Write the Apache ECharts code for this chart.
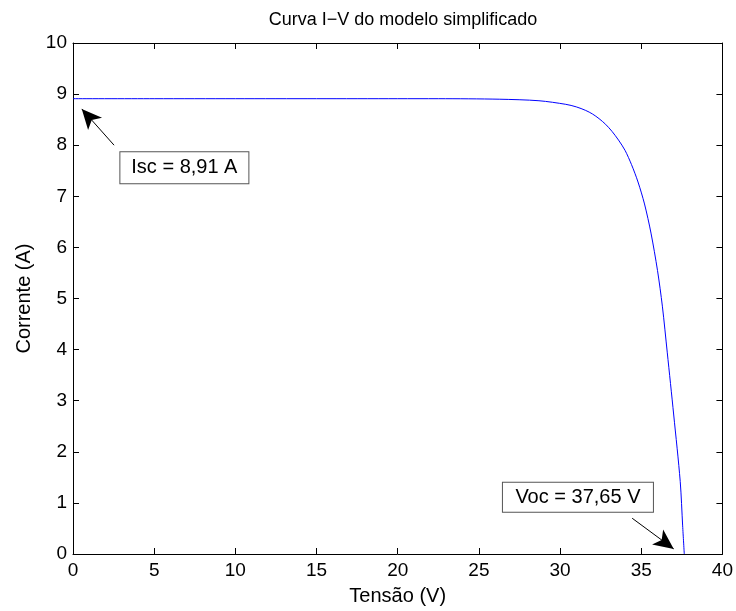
<!DOCTYPE html>
<html>
<head>
<meta charset="utf-8">
<script src="https://cdn.jsdelivr.net/npm/echarts@6/dist/echarts.min.js"></script>
<style>html,body{margin:0;padding:0;background:#fff;}#c{width:736px;height:611px;}</style>
</head>
<body>
<div id="c"></div>
<script>
// Data
const voltage = [0, 5, 10, 15, 20, 22.5, 26.25, 28.7, 30.35, 31.0, 31.58, 32.0, 32.4, 32.8, 33.2, 33.6, 34.0, 34.4, 34.8, 35.2, 35.6, 36.0, 36.3, 36.6, 37.0, 37.4, 37.55, 37.65];
const current = [8.91, 8.91, 8.91, 8.91, 8.91, 8.91, 8.90, 8.87, 8.80, 8.75, 8.68, 8.61, 8.52, 8.41, 8.27, 8.10, 7.90, 7.62, 7.28, 6.85, 6.28, 5.55, 4.85, 3.95, 2.72, 1.42, 0.55, 0];
const xTicks = [0, 5, 10, 15, 20, 25, 30, 35, 40];
const yTicks = [0, 1, 2, 3, 4, 5, 6, 7, 8, 9, 10];
const iscLabel = 'Isc = 8,91 A';
const vocLabel = 'Voc = 37,65 V';

const FONT = '"Liberation Sans", Arial, Helvetica, sans-serif';
const chart = echarts.init(document.getElementById('c'), null, {renderer: 'canvas'});
const pts = voltage.map((v, i) => [v, current[i]]);

const axisCommon = {
  type: 'value',
  axisLine: {show: true, onZero: false, lineStyle: {color: '#000', width: 1}},
  axisTick: {show: true, inside: true, length: 6, lineStyle: {color: '#000'}},
  splitLine: {show: false},
};

function boxLabel(text, w, h) {
  return {
    show: true, position: 'inside', formatter: text,
    fontFamily: FONT, fontSize: 20, color: '#000',
    backgroundColor: '#fff', borderColor: '#555', borderWidth: 1,
    width: w, height: h, lineHeight: h, align: 'center', verticalAlign: 'middle', padding: 0
  };
}

chart.setOption({
  animation: false,
  backgroundColor: '#fff',
  title: {
    text: 'Curva I\u2212V do modelo simplificado',
    left: 398, top: 6, textAlign: 'center',
    textStyle: {fontFamily: FONT, fontSize: 18, fontWeight: 'normal', color: '#000'}
  },
  grid: {left: 73, right: 12, top: 43, bottom: 55},
  xAxis: [
    Object.assign({}, axisCommon, {
      min: xTicks[0], max: xTicks[xTicks.length - 1], interval: 5,
      name: 'Tensão (V)', nameLocation: 'middle', nameGap: 32,
      nameTextStyle: {fontFamily: FONT, fontSize: 20, color: '#000'},
      axisLabel: {fontFamily: FONT, fontSize: 19, color: '#000', margin: 7}
    }),
    Object.assign({}, axisCommon, {
      position: 'top', min: xTicks[0], max: xTicks[xTicks.length - 1], interval: 5,
      axisLabel: {show: false}
    })
  ],
  yAxis: [
    Object.assign({}, axisCommon, {
      min: yTicks[0], max: yTicks[yTicks.length - 1], interval: 1,
      name: 'Corrente (A)', nameLocation: 'middle', nameGap: 35,
      nameTextStyle: {fontFamily: FONT, fontSize: 20, color: '#000'},
      axisLabel: {fontFamily: FONT, fontSize: 19, color: '#000', margin: 6}
    }),
    Object.assign({}, axisCommon, {
      position: 'right', min: yTicks[0], max: yTicks[yTicks.length - 1], interval: 1,
      axisLabel: {show: false}
    })
  ],
  series: [{
    type: 'line',
    data: pts,
    showSymbol: false,
    smooth: 0.3,
    lineStyle: {color: '#0000ff', width: 1},
    itemStyle: {color: '#0000ff'},
    z: 3,
    markLine: {
      silent: true,
      animation: false,
      symbolSize: [14, 20],
      lineStyle: {color: '#000', width: 1, type: 'solid'},
      label: {show: false},
      data: [
        [{coord: [2.53, 8.0], symbol: 'none'}, {coord: [0.54, 8.71], symbol: 'arrow'}],
        [{coord: [34.44, 0.70], symbol: 'none'}, {coord: [37.0, 0.1], symbol: 'arrow'}]
      ]
    },
    markPoint: {
      silent: true,
      animation: false,
      symbol: 'circle',
      symbolSize: 1,
      itemStyle: {color: 'rgba(0,0,0,0)'},
      data: [
        {coord: [6.86, 7.56], label: boxLabel(iscLabel, 128, 31)},
        {coord: [31.1, 1.11], label: boxLabel(vocLabel, 150, 29)}
      ]
    }
  }]
});
</script>
</body>
</html>
